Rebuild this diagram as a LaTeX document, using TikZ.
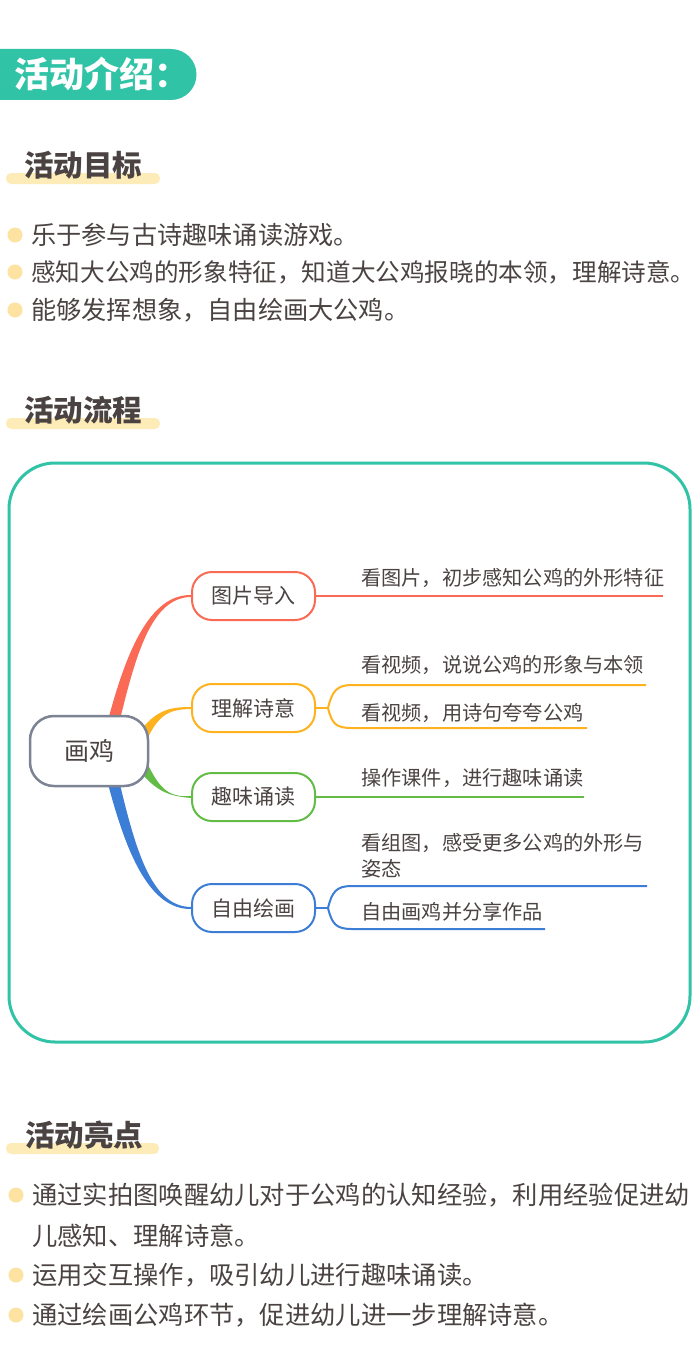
\documentclass[tikz,border=0pt]{standalone}
\usepackage{fontspec}
\setmainfont{Noto Sans CJK SC}
\usetikzlibrary{backgrounds}
\definecolor{teal1}{HTML}{30C3A6}
\definecolor{txt}{HTML}{4A4342}
\definecolor{barc}{HTML}{FDEBB8}
\definecolor{dotc}{HTML}{FDE2A2}
\definecolor{redc}{HTML}{FA6A55}
\definecolor{orc}{HTML}{FDB21E}
\definecolor{grc}{HTML}{62BC45}
\definecolor{blc}{HTML}{3C7DD6}
\definecolor{grayc}{HTML}{7C8494}
\tikzset{
  mbox/.style={draw, line width=2pt, fill=white, rounded corners=20pt, minimum width=123pt, minimum height=48pt, inner sep=0pt, text=txt, font=\fontsize{21}{21}\selectfont},
  leaf/.style={anchor=west, inner sep=0pt, text=txt, font=\fontsize{20.2}{26}\selectfont},
  bul/.style={anchor=west, inner sep=0pt, text=txt, font=\fontsize{25.2}{30}\selectfont},
  bulb/.style={anchor=west, inner sep=0pt, text=txt, font=\fontsize{25.3}{30}\selectfont},
  dotn/.style={circle, fill=dotc, minimum size=15pt, inner sep=0pt},
  sectitle/.style={anchor=west, inner sep=0pt, text=txt, font=\bfseries\fontsize{29.5}{29.5}\selectfont},
  tbar/.style={fill=barc, rounded corners=5pt},
  lw/.style={line width=2pt},
}
\begin{document}
\begin{tikzpicture}[x=1pt,y=-1pt]
\useasboundingbox (0,0) rectangle (700,1362);

% header pill
\fill[teal1] (0,49) -- (171,49) arc[start angle=-90,end angle=90,radius=25.5] -- (0,100) -- cycle;
\node[anchor=west, inner sep=0pt, text=white, font=\bfseries\fontsize{35}{35}\selectfont] (head) at (14,74) {活动介绍：};

% section 1
\fill[tbar] (6,173) rectangle (160,184);
\node[sectitle] (t1) at (24,165) {活动目标};
\node[dotn] (d1) at (15,235) {};
\node[dotn] (d2) at (15,272) {};
\node[dotn] (d3) at (15,310) {};
\node[bul] (b1) at (31,235) {乐于参与古诗趣味诵读游戏。};
\node[bul, font=\fontsize{24.6}{30}\selectfont] (b2) at (31,272) {感知大公鸡的形象特征，知道大公鸡报晓的本领，理解诗意\rlap{。}};
\node[bul] (b3) at (31,310) {能够发挥想象，自由绘画大公鸡。};

% section 2
\fill[tbar] (6,418) rectangle (160,429);
\node[sectitle] (t2) at (24,410) {活动流程};
\draw[teal1, line width=3pt, rounded corners=46pt] (9,463) rectangle (690,1042);

% mind map nodes
\node[draw=grayc, line width=2.5pt, fill=white, rounded corners=24pt, minimum width=118pt, minimum height=70pt, inner sep=0pt, text=txt, font=\fontsize{25}{25}\selectfont] (root) at (89,751) {画鸡};
\node[mbox, draw=redc] (n1) at (253.5,596) {图片导入};
\node[mbox, draw=orc] (n2) at (253.5,708) {理解诗意};
\node[mbox, draw=grc] (n3) at (253.5,797) {趣味诵读};
\node[mbox, draw=blc] (n4) at (253.5,908) {自由绘画};

% leaf texts
\node[leaf] (l1) at (361,578) {看图片，初步感知公鸡的外形特征};
\node[leaf] (l2a) at (361,665) {看视频，说说公鸡的形象与本领};
\node[leaf] (l2b) at (361,713) {看视频，用诗句夸夸公鸡};
\node[leaf] (l3) at (361,778) {操作课件，进行趣味诵读};
\node[leaf, align=left] (l4a) at (361,856) {看组图，感受更多公鸡的外形与\\姿态};
\node[leaf] (l4b) at (361,912) {自由画鸡并分享作品};

\coordinate (e1) at (663,596);
\coordinate (f2) at (328,708);
\coordinate (e2a) at (646,685);
\coordinate (e2b) at (587,728);
\coordinate (e3) at (584,797);
\coordinate (f4) at (328,908);
\coordinate (e4a) at (647,886);
\coordinate (e4b) at (545,929);

\begin{scope}[on background layer]
\fill[white] (0,0) rectangle (700,1362);
% tapered branches from root
\fill[redc] (106,728) .. controls (126,650) and (150,594.5) .. ([yshift=1pt]n1.west) -- ([yshift=-1pt]n1.west) .. controls (152,597.5) and (136,652) .. (118,728) -- cycle;
\fill[orc] (136,736) .. controls (154,712) and (166,706.8) .. ([yshift=1pt]n2.west) -- ([yshift=-1pt]n2.west) .. controls (166,709.2) and (158,717) .. (146,741) -- cycle;
\fill[grc] (136,766) .. controls (154,790) and (166,795.8) .. ([yshift=-1pt]n3.west) -- ([yshift=1pt]n3.west) .. controls (166,798.2) and (158,785) .. (146,761) -- cycle;
\fill[blc] (106,776) .. controls (126,855) and (150,909.5) .. ([yshift=-1pt]n4.west) -- ([yshift=1pt]n4.west) .. controls (152,906.5) and (136,853) .. (118,776) -- cycle;
% leaf lines
\draw[redc, lw] (n1.east) -- (e1);
\draw[orc, lw] (n2.east) -- (f2);
\draw[orc, lw] (f2) .. controls (332,692) and (336,685) .. (352,685) -- (e2a);
\draw[orc, lw] (f2) .. controls (332,724) and (336,728) .. (352,728) -- (e2b);
\draw[grc, lw] (n3.east) -- (e3);
\draw[blc, lw] (n4.east) -- (f4);
\draw[blc, lw] (f4) .. controls (332,892) and (336,886) .. (352,886) -- (e4a);
\draw[blc, lw] (f4) .. controls (332,924) and (336,929) .. (352,929) -- (e4b);
\end{scope}

% section 3
\fill[tbar] (6,1143) rectangle (159,1154);
\node[sectitle] (t3) at (25,1135) {活动亮点};
\node[dotn] (d4) at (16,1195) {};
\node[dotn] (d5) at (16,1275) {};
\node[dotn] (d6) at (16,1315) {};
\node[bulb] (b4) at (32,1195) {通过实拍图唤醒幼儿对于公鸡的认知经验，利用经验促进幼};
\node[bulb] (b4b) at (32,1236) {儿感知、理解诗意。};
\node[bulb] (b5) at (32,1275) {运用交互操作，吸引幼儿进行趣味诵读。};
\node[bulb] (b6) at (32,1315) {通过绘画公鸡环节，促进幼儿进一步理解诗意。};
\end{tikzpicture}
\end{document}
